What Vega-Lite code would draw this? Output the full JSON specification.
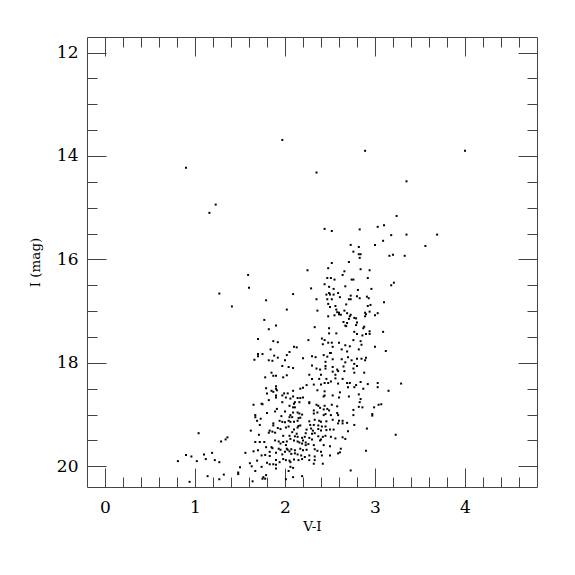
{
"$schema": "https://vega.github.io/schema/vega-lite/v6.json",
"width": 450, "height": 450,
"autosize": "none",
"padding": {"left": 87, "top": 37, "right": 38, "bottom": 88},
"background": "white",
"config": {"view": {"stroke": "#444", "strokeWidth": 1}, "axis": {"grid": false, "domain": false, "labelFont": "DejaVu Serif", "titleFont": "DejaVu Serif", "tickColor": "#444", "tickWidth": 1, "labelColor": "#000", "titleColor": "#000"}},
"data": {"values": [
{"VI":1.97,"I":13.69},{"VI":0.90,"I":14.23},{"VI":1.23,"I":14.94},{"VI":1.16,"I":15.10},{"VI":2.25,"I":16.21},{"VI":1.59,"I":16.30},
{"VI":2.89,"I":13.90},{"VI":4.00,"I":13.90},{"VI":2.35,"I":14.32},{"VI":3.35,"I":14.49},{"VI":3.24,"I":15.16},{"VI":2.44,"I":15.41},
{"VI":2.52,"I":15.45},{"VI":2.83,"I":15.42},{"VI":3.03,"I":15.37},{"VI":3.10,"I":15.34},{"VI":3.18,"I":15.53},{"VI":3.35,"I":15.52},
{"VI":3.69,"I":15.52},{"VI":2.73,"I":15.72},{"VI":2.82,"I":15.76},{"VI":3.00,"I":15.72},{"VI":3.09,"I":15.64},{"VI":3.56,"I":15.74},
{"VI":2.76,"I":15.85},{"VI":2.82,"I":15.90},{"VI":2.84,"I":15.90},{"VI":2.83,"I":15.97},{"VI":3.16,"I":15.93},{"VI":3.20,"I":15.91},
{"VI":3.33,"I":15.93},{"VI":2.71,"I":16.05},{"VI":2.52,"I":16.07},{"VI":2.48,"I":16.17},{"VI":2.84,"I":16.19},{"VI":2.94,"I":16.21},
{"VI":2.66,"I":16.23},{"VI":2.64,"I":16.30},{"VI":2.47,"I":16.36},{"VI":2.51,"I":16.36},{"VI":2.55,"I":16.39},{"VI":2.74,"I":16.39},
{"VI":2.76,"I":16.39},{"VI":2.92,"I":16.36},{"VI":1.60,"I":16.55},{"VI":1.27,"I":16.66},{"VI":1.79,"I":16.79},{"VI":1.41,"I":16.91},
{"VI":1.77,"I":17.17},{"VI":1.90,"I":17.28},{"VI":1.82,"I":17.35},{"VI":1.70,"I":17.54},{"VI":1.87,"I":17.58},{"VI":1.92,"I":17.60},
{"VI":1.84,"I":17.74},{"VI":1.70,"I":17.83},{"VI":1.70,"I":17.87},{"VI":1.75,"I":17.83},{"VI":1.88,"I":17.86},{"VI":1.92,"I":17.90},
{"VI":1.66,"I":17.94},{"VI":1.82,"I":17.95},{"VI":1.86,"I":17.96},{"VI":1.85,"I":18.19},{"VI":1.87,"I":18.25},{"VI":1.90,"I":18.25},
{"VI":1.78,"I":18.28},{"VI":2.29,"I":16.56},{"VI":2.44,"I":16.48},{"VI":2.49,"I":16.53},{"VI":2.54,"I":16.57},{"VI":2.67,"I":16.52},
{"VI":2.81,"I":16.59},{"VI":2.96,"I":16.57},{"VI":3.18,"I":16.50},{"VI":3.21,"I":16.45},{"VI":2.09,"I":16.67},{"VI":2.46,"I":16.68},
{"VI":2.49,"I":16.65},{"VI":2.50,"I":16.68},{"VI":2.54,"I":16.68},{"VI":2.59,"I":16.65},{"VI":2.61,"I":16.73},{"VI":2.73,"I":16.70},
{"VI":2.71,"I":16.77},{"VI":2.73,"I":16.77},{"VI":2.80,"I":16.71},{"VI":2.83,"I":16.75},{"VI":2.91,"I":16.72},{"VI":2.93,"I":16.75},
{"VI":2.35,"I":16.77},{"VI":2.47,"I":16.77},{"VI":2.52,"I":16.77},{"VI":2.48,"I":16.86},{"VI":2.50,"I":16.92},{"VI":2.56,"I":16.90},
{"VI":2.68,"I":16.87},{"VI":2.92,"I":16.90},{"VI":2.95,"I":16.88},{"VI":3.10,"I":16.83},{"VI":2.02,"I":16.97},{"VI":2.36,"I":16.99},
{"VI":2.57,"I":16.97},{"VI":2.58,"I":17.02},{"VI":2.60,"I":17.03},{"VI":2.66,"I":16.99},{"VI":2.60,"I":17.06},{"VI":2.55,"I":17.08},
{"VI":2.48,"I":17.10},{"VI":2.62,"I":17.07},{"VI":2.69,"I":17.04},{"VI":2.72,"I":17.10},{"VI":2.73,"I":17.07},{"VI":2.77,"I":17.13},
{"VI":2.79,"I":17.14},{"VI":2.89,"I":17.03},{"VI":2.90,"I":17.06},{"VI":2.89,"I":17.10},{"VI":2.94,"I":17.01},{"VI":3.00,"I":17.08},
{"VI":3.03,"I":17.04},{"VI":2.71,"I":17.15},{"VI":2.65,"I":17.21},{"VI":2.69,"I":17.23},{"VI":2.80,"I":17.22},{"VI":2.67,"I":17.28},
{"VI":2.68,"I":17.29},{"VI":2.33,"I":17.31},{"VI":2.49,"I":17.33},{"VI":2.79,"I":17.27},{"VI":2.88,"I":17.30},{"VI":2.87,"I":17.33},
{"VI":2.77,"I":17.40},{"VI":2.80,"I":17.44},{"VI":2.94,"I":17.39},{"VI":2.94,"I":17.44},{"VI":2.90,"I":17.44},{"VI":2.86,"I":17.47},
{"VI":3.09,"I":17.40},{"VI":2.49,"I":17.43},{"VI":2.57,"I":17.43},{"VI":2.26,"I":17.56},{"VI":2.41,"I":17.53},{"VI":2.44,"I":17.56},
{"VI":2.48,"I":17.61},{"VI":2.52,"I":17.61},{"VI":2.60,"I":17.61},{"VI":2.76,"I":17.56},{"VI":2.84,"I":17.58},{"VI":2.42,"I":17.64},
{"VI":2.53,"I":17.69},{"VI":2.67,"I":17.66},{"VI":2.72,"I":17.68},{"VI":2.63,"I":17.74},{"VI":2.69,"I":17.78},{"VI":2.82,"I":17.74},
{"VI":2.85,"I":17.65},{"VI":2.10,"I":17.69},{"VI":2.13,"I":17.70},{"VI":3.00,"I":17.69},{"VI":3.12,"I":17.77},{"VI":2.05,"I":17.79},
{"VI":2.02,"I":17.85},{"VI":2.30,"I":17.87},{"VI":2.34,"I":17.89},{"VI":2.43,"I":17.85},{"VI":2.47,"I":17.88},{"VI":2.50,"I":17.81},
{"VI":2.51,"I":17.81},{"VI":2.70,"I":17.89},{"VI":2.80,"I":17.92},{"VI":2.85,"I":17.92},{"VI":2.89,"I":17.95},{"VI":2.90,"I":17.90},
{"VI":2.20,"I":17.91},{"VI":2.53,"I":17.93},{"VI":2.63,"I":17.93},{"VI":2.67,"I":17.99},{"VI":2.74,"I":17.95},{"VI":2.00,"I":17.95},
{"VI":1.97,"I":18.06},{"VI":2.04,"I":18.08},{"VI":2.09,"I":18.10},{"VI":2.30,"I":18.05},{"VI":2.45,"I":17.98},{"VI":2.45,"I":18.06},
{"VI":2.53,"I":18.08},{"VI":2.58,"I":18.13},{"VI":2.65,"I":18.07},{"VI":2.77,"I":18.02},{"VI":2.80,"I":18.06},{"VI":2.76,"I":18.11},
{"VI":2.35,"I":18.11},{"VI":2.39,"I":18.13},{"VI":2.45,"I":18.11},{"VI":2.53,"I":18.17},{"VI":2.59,"I":18.16},{"VI":2.66,"I":18.16},
{"VI":2.77,"I":18.19},{"VI":2.88,"I":18.19},{"VI":2.27,"I":18.23},{"VI":2.40,"I":18.23},{"VI":2.56,"I":18.23},{"VI":2.02,"I":18.24},
{"VI":1.98,"I":18.28},{"VI":2.30,"I":18.31},{"VI":2.38,"I":18.31},{"VI":2.46,"I":18.31},{"VI":2.56,"I":18.30},{"VI":2.64,"I":18.31},
{"VI":1.79,"I":18.49},{"VI":1.80,"I":18.59},{"VI":1.82,"I":18.72},{"VI":1.65,"I":18.81},{"VI":1.74,"I":18.79},{"VI":1.75,"I":18.80},
{"VI":1.80,"I":18.97},{"VI":1.67,"I":19.01},{"VI":1.67,"I":19.05},{"VI":1.69,"I":19.12},{"VI":1.73,"I":19.08},{"VI":1.72,"I":19.20},
{"VI":1.82,"I":19.35},{"VI":1.62,"I":19.31},{"VI":1.71,"I":19.39},{"VI":1.04,"I":19.36},{"VI":1.36,"I":19.44},{"VI":1.34,"I":19.48},
{"VI":1.29,"I":19.52},{"VI":1.67,"I":19.53},{"VI":1.72,"I":19.53},{"VI":1.77,"I":19.53},{"VI":1.79,"I":19.63},{"VI":1.70,"I":19.69},
{"VI":1.65,"I":19.71},{"VI":1.19,"I":19.74},{"VI":1.10,"I":19.77},{"VI":0.90,"I":19.78},{"VI":0.96,"I":19.81},{"VI":1.74,"I":19.79},
{"VI":1.78,"I":19.78},{"VI":1.83,"I":19.80},{"VI":1.56,"I":19.74},{"VI":1.12,"I":19.86},{"VI":1.22,"I":19.88},{"VI":0.81,"I":19.90},
{"VI":1.02,"I":19.90},{"VI":1.27,"I":19.92},{"VI":1.61,"I":19.94},{"VI":1.63,"I":20.00},{"VI":1.69,"I":19.89},{"VI":1.80,"I":19.93},
{"VI":1.74,"I":20.01},{"VI":1.50,"I":20.02},{"VI":1.48,"I":20.12},{"VI":1.48,"I":20.15},{"VI":1.67,"I":20.09},{"VI":1.32,"I":20.16},
{"VI":1.14,"I":20.19},{"VI":1.27,"I":20.25},{"VI":1.76,"I":20.21},{"VI":1.78,"I":20.24},{"VI":1.75,"I":20.24},{"VI":0.94,"I":20.30},
{"VI":1.64,"I":20.29},{"VI":1.79,"I":20.17},{"VI":1.90,"I":18.45},{"VI":1.90,"I":18.50},{"VI":1.91,"I":18.53},{"VI":1.85,"I":18.54},
{"VI":1.87,"I":18.56},{"VI":1.90,"I":18.63},{"VI":1.90,"I":18.67},{"VI":1.99,"I":18.59},{"VI":2.03,"I":18.59},{"VI":2.09,"I":18.54},
{"VI":2.17,"I":18.50},{"VI":2.20,"I":18.48},{"VI":2.24,"I":18.43},{"VI":2.32,"I":18.42},{"VI":2.40,"I":18.42},{"VI":2.48,"I":18.39},
{"VI":2.51,"I":18.36},{"VI":2.59,"I":18.40},{"VI":2.69,"I":18.39},{"VI":2.72,"I":18.39},{"VI":2.84,"I":18.37},{"VI":2.79,"I":18.43},
{"VI":2.92,"I":18.41},{"VI":3.03,"I":18.39},{"VI":3.03,"I":18.47},{"VI":3.29,"I":18.40},{"VI":3.15,"I":18.54},{"VI":1.97,"I":18.63},
{"VI":2.01,"I":18.67},{"VI":2.06,"I":18.69},{"VI":2.09,"I":18.65},{"VI":2.14,"I":18.68},{"VI":2.17,"I":18.68},{"VI":2.20,"I":18.67},
{"VI":2.36,"I":18.53},{"VI":2.44,"I":18.55},{"VI":2.44,"I":18.63},{"VI":2.43,"I":18.65},{"VI":2.53,"I":18.63},{"VI":2.61,"I":18.57},
{"VI":2.60,"I":18.67},{"VI":2.71,"I":18.65},{"VI":2.82,"I":18.61},{"VI":2.84,"I":18.70},{"VI":1.97,"I":18.76},{"VI":2.11,"I":18.76},
{"VI":2.10,"I":18.79},{"VI":2.16,"I":18.76},{"VI":2.27,"I":18.76},{"VI":2.27,"I":18.78},{"VI":2.35,"I":18.81},{"VI":2.37,"I":18.83},
{"VI":2.44,"I":18.83},{"VI":2.39,"I":18.87},{"VI":2.43,"I":18.90},{"VI":2.47,"I":18.89},{"VI":2.49,"I":18.92},{"VI":2.52,"I":18.81},
{"VI":2.58,"I":18.84},{"VI":2.83,"I":18.76},{"VI":2.86,"I":18.86},{"VI":2.82,"I":18.85},{"VI":2.99,"I":18.86},{"VI":3.04,"I":18.81},
{"VI":3.07,"I":18.80},{"VI":2.05,"I":18.83},{"VI":2.09,"I":18.86},{"VI":2.11,"I":18.86},{"VI":1.91,"I":18.89},{"VI":1.89,"I":18.94},
{"VI":2.00,"I":18.94},{"VI":2.09,"I":18.96},{"VI":2.14,"I":18.96},{"VI":2.16,"I":18.98},{"VI":2.19,"I":19.00},{"VI":2.32,"I":18.92},
{"VI":2.32,"I":18.98},{"VI":2.36,"I":18.96},{"VI":2.43,"I":19.01},{"VI":2.45,"I":18.99},{"VI":2.51,"I":19.01},{"VI":2.58,"I":18.97},
{"VI":2.59,"I":19.01},{"VI":2.76,"I":18.91},{"VI":2.76,"I":19.01},{"VI":2.97,"I":18.99},{"VI":2.97,"I":19.02},{"VI":1.96,"I":19.03},
{"VI":2.06,"I":19.01},{"VI":2.05,"I":19.05},{"VI":2.08,"I":19.05},{"VI":2.15,"I":19.07},{"VI":2.17,"I":19.06},{"VI":1.94,"I":19.12},
{"VI":1.97,"I":19.14},{"VI":2.00,"I":19.15},{"VI":2.04,"I":19.12},{"VI":2.06,"I":19.14},{"VI":2.10,"I":19.14},{"VI":2.14,"I":19.12},
{"VI":2.27,"I":19.13},{"VI":2.33,"I":19.10},{"VI":2.38,"I":19.12},{"VI":2.40,"I":19.14},{"VI":2.46,"I":19.13},{"VI":2.53,"I":19.10},
{"VI":2.60,"I":19.12},{"VI":2.64,"I":19.12},{"VI":2.69,"I":19.16},{"VI":2.59,"I":19.17},{"VI":2.64,"I":19.17},{"VI":1.87,"I":19.17},
{"VI":1.87,"I":19.21},{"VI":2.28,"I":19.20},{"VI":2.32,"I":19.20},{"VI":2.37,"I":19.21},{"VI":2.41,"I":19.23},{"VI":2.45,"I":19.23},
{"VI":2.77,"I":19.20},{"VI":2.04,"I":19.23},{"VI":2.15,"I":19.22},{"VI":2.17,"I":19.21},{"VI":1.92,"I":19.26},{"VI":1.95,"I":19.28},
{"VI":2.01,"I":19.25},{"VI":2.10,"I":19.29},{"VI":2.14,"I":19.25},{"VI":2.24,"I":19.29},{"VI":2.29,"I":19.27},{"VI":2.31,"I":19.31},
{"VI":2.37,"I":19.28},{"VI":2.40,"I":19.31},{"VI":2.46,"I":19.30},{"VI":2.50,"I":19.29},{"VI":2.54,"I":19.29},{"VI":2.91,"I":19.27},
{"VI":1.83,"I":19.31},{"VI":1.86,"I":19.33},{"VI":1.89,"I":19.35},{"VI":2.08,"I":19.34},{"VI":2.13,"I":19.37},{"VI":2.23,"I":19.36},
{"VI":2.30,"I":19.37},{"VI":2.33,"I":19.36},{"VI":2.70,"I":19.32},{"VI":1.98,"I":19.41},{"VI":2.05,"I":19.41},{"VI":2.11,"I":19.42},
{"VI":2.14,"I":19.43},{"VI":2.19,"I":19.45},{"VI":2.22,"I":19.43},{"VI":2.27,"I":19.45},{"VI":2.37,"I":19.42},{"VI":2.42,"I":19.43},
{"VI":2.45,"I":19.41},{"VI":2.51,"I":19.43},{"VI":2.56,"I":19.46},{"VI":3.23,"I":19.39},{"VI":2.06,"I":19.47},{"VI":2.10,"I":19.50},
{"VI":2.14,"I":19.52},{"VI":2.20,"I":19.50},{"VI":2.23,"I":19.54},{"VI":2.30,"I":19.48},{"VI":2.39,"I":19.50},{"VI":2.40,"I":19.48},
{"VI":2.64,"I":19.44},{"VI":2.67,"I":19.47},{"VI":1.89,"I":19.50},{"VI":1.93,"I":19.52},{"VI":1.98,"I":19.53},{"VI":2.02,"I":19.52},
{"VI":2.16,"I":19.54},{"VI":2.19,"I":19.56},{"VI":1.95,"I":19.56},{"VI":2.01,"I":19.59},{"VI":2.23,"I":19.59},{"VI":2.26,"I":19.57},
{"VI":2.32,"I":19.59},{"VI":2.43,"I":19.59},{"VI":2.50,"I":19.61},{"VI":1.85,"I":19.63},{"VI":1.86,"I":19.65},{"VI":1.93,"I":19.66},
{"VI":1.95,"I":19.68},{"VI":2.02,"I":19.66},{"VI":2.03,"I":19.68},{"VI":2.07,"I":19.67},{"VI":2.11,"I":19.69},{"VI":2.17,"I":19.66},
{"VI":2.20,"I":19.69},{"VI":2.24,"I":19.68},{"VI":2.33,"I":19.67},{"VI":2.36,"I":19.70},{"VI":2.40,"I":19.72},{"VI":2.62,"I":19.66},
{"VI":2.61,"I":19.73},{"VI":2.59,"I":19.75},{"VI":2.90,"I":19.70},{"VI":1.83,"I":19.72},{"VI":1.90,"I":19.74},{"VI":1.97,"I":19.77},
{"VI":2.00,"I":19.72},{"VI":2.05,"I":19.71},{"VI":2.07,"I":19.76},{"VI":2.11,"I":19.75},{"VI":2.14,"I":19.77},{"VI":2.18,"I":19.79},
{"VI":2.22,"I":19.82},{"VI":2.27,"I":19.79},{"VI":2.33,"I":19.81},{"VI":2.41,"I":19.79},{"VI":2.50,"I":19.79},{"VI":1.98,"I":19.86},
{"VI":2.01,"I":19.88},{"VI":2.05,"I":19.89},{"VI":2.10,"I":19.87},{"VI":2.15,"I":19.88},{"VI":2.19,"I":19.86},{"VI":2.27,"I":19.88},
{"VI":2.33,"I":19.88},{"VI":1.90,"I":19.88},{"VI":1.94,"I":19.92},{"VI":2.06,"I":19.92},{"VI":1.83,"I":19.96},{"VI":1.87,"I":19.96},
{"VI":1.90,"I":19.97},{"VI":2.32,"I":19.95},{"VI":2.42,"I":19.95},{"VI":1.90,"I":20.04},{"VI":2.06,"I":20.01},{"VI":2.09,"I":20.03},
{"VI":2.04,"I":20.09},{"VI":2.73,"I":20.08},{"VI":2.09,"I":20.21},{"VI":2.19,"I":20.19},{"VI":2.01,"I":20.25},{"VI":2.70,"I":18.47},
{"VI":2.77,"I":18.47},{"VI":2.87,"I":18.50},{"VI":2.44,"I":18.39}
]},
"layer": [
{"mark": {"type": "point", "opacity": 0},
 "encoding": {
  "x": {"field": "VI", "type": "quantitative", "scale": {"domain": [-0.2, 4.8], "nice": false, "zero": false}, "axis": {"orient": "bottom", "labels": false, "title": null, "tickSize": -19, "values": [0,1,2,3,4]}},
  "y": {"field": "I", "type": "quantitative", "scale": {"domain": [11.7, 20.4], "reverse": true, "nice": false, "zero": false}, "axis": {"orient": "left", "labels": false, "title": null, "tickSize": -19, "values": [12,14,16,18,20]}}
 }},
{"mark": {"type": "point", "opacity": 0},
 "encoding": {
  "x": {"field": "VI", "type": "quantitative", "scale": {"domain": [-0.2, 4.8], "nice": false, "zero": false}, "axis": {"orient": "bottom", "labels": false, "title": null, "tickSize": -10, "values": [0.2,0.4,0.6,0.8,1.2,1.4,1.6,1.8,2.2,2.4,2.6,2.8,3.2,3.4,3.6,3.8,4.2,4.4,4.6]}},
  "y": {"field": "I", "type": "quantitative", "scale": {"domain": [11.7, 20.4], "reverse": true, "nice": false, "zero": false}, "axis": {"orient": "left", "labels": false, "title": null, "tickSize": -10, "values": [12.5,13,13.5,14.5,15,15.5,16.5,17,17.5,18.5,19,19.5]}}
 }},
{"mark": {"type": "point", "opacity": 0},
 "encoding": {
  "x": {"field": "VI", "type": "quantitative", "scale": {"domain": [-0.2, 4.8], "nice": false, "zero": false}, "axis": {"orient": "top", "labels": false, "title": null, "tickSize": -19, "values": [0,1,2,3,4]}},
  "y": {"field": "I", "type": "quantitative", "scale": {"domain": [11.7, 20.4], "reverse": true, "nice": false, "zero": false}, "axis": {"orient": "right", "labels": false, "title": null, "tickSize": -19, "values": [12,14,16,18,20]}}
 }},
{"mark": {"type": "point", "opacity": 0},
 "encoding": {
  "x": {"field": "VI", "type": "quantitative", "scale": {"domain": [-0.2, 4.8], "nice": false, "zero": false}, "axis": {"orient": "top", "labels": false, "title": null, "tickSize": -10, "values": [0.2,0.4,0.6,0.8,1.2,1.4,1.6,1.8,2.2,2.4,2.6,2.8,3.2,3.4,3.6,3.8,4.2,4.4,4.6]}},
  "y": {"field": "I", "type": "quantitative", "scale": {"domain": [11.7, 20.4], "reverse": true, "nice": false, "zero": false}, "axis": {"orient": "right", "labels": false, "title": null, "tickSize": -10, "values": [12.5,13,13.5,14.5,15,15.5,16.5,17,17.5,18.5,19,19.5]}}
 }},
{"mark": {"type": "point", "shape": "square", "filled": true, "size": 4, "color": "black", "opacity": 1},
 "encoding": {
  "x": {"field": "VI", "type": "quantitative", "scale": {"domain": [-0.2, 4.8], "nice": false, "zero": false}, "axis": {"orient": "bottom", "ticks": false, "values": [0,1,2,3,4], "format": "d", "labelPadding": 12, "labelFontSize": 17, "title": "V-I", "titleFontSize": 13.5, "titleFontWeight": "normal", "titleY": 43, "titleBaseline": "alphabetic"}},
  "y": {"field": "I", "type": "quantitative", "scale": {"domain": [11.7, 20.4], "reverse": true, "nice": false, "zero": false}, "axis": {"orient": "left", "ticks": false, "values": [12,14,16,18,20], "format": "d", "labelPadding": 9, "labelFontSize": 17, "title": "I (mag)", "titleFontSize": 13.5, "titleFontWeight": "normal", "titleAngle": 270, "titleX": -48, "titleY": 225, "titleAlign": "center", "titleBaseline": "alphabetic"}}
 }}
],
"resolve": {"axis": {"x": "independent", "y": "independent"}}
}
